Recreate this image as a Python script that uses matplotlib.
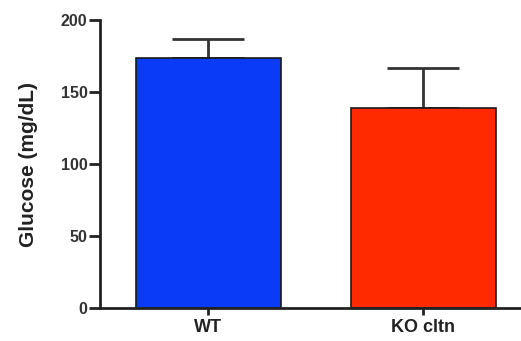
import matplotlib
matplotlib.use("Agg")
import matplotlib.pyplot as plt

categories = ["WT", "KO cltn"]
means = [174, 139]
errors = [13, 28]
colors = ["#0a3cf8", "#ff2a00"]
yticks = [0, 50, 100, 150, 200]

plt.rcParams['font.family'] = ['Liberation Sans', 'DejaVu Sans']

fig = plt.figure(figsize=(5.21, 3.41), dpi=100)
ax = fig.add_axes([0.192, 0.097, 0.806, 0.844])

x = list(range(len(categories)))
ax.bar(x, means, width=0.674, color=colors, edgecolor="#1a1a1a", linewidth=1.2, zorder=2)
ax.errorbar(x, means, yerr=[[0, 0], errors], fmt="none", ecolor="#333333",
            elinewidth=2, capsize=26, capthick=2, zorder=1)

ax.set_xlim(-0.502, 1.45)
ax.set_ylim(0, 200)
ax.set_yticks(yticks)
ax.set_xticks(x)
ax.set_xticklabels(categories, fontsize=13, fontweight="bold", color="#222222")
ax.set_yticklabels([str(t) for t in yticks], fontsize=11.5, fontweight="bold", color="#333333")
ax.set_ylabel("Glucose (mg/dL)", fontsize=15, fontweight="bold", color="#222222", labelpad=16)

for s in ["top", "right"]:
    ax.spines[s].set_visible(False)
for s in ["left", "bottom"]:
    ax.spines[s].set_linewidth(2)
    ax.spines[s].set_color("#222222")
ax.tick_params(axis="y", width=2, length=8, pad=1, color="#222222")
ax.tick_params(axis="x", width=2, length=5, pad=3, color="#222222")

fig.savefig("out.png", dpi=100)
